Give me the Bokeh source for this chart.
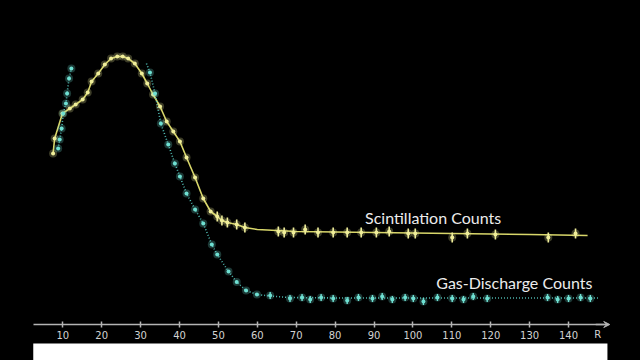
import numpy as np
from bokeh.plotting import figure
from bokeh.models import (LinearAxis, FixedTicker, Range1d, Label, BoxAnnotation,
                          Arrow, VeeHead)
from bokeh.core.properties import value
from bokeh.embed import file_html
from bokeh.resources import INLINE

# ---------------- data (R vs counts, arbitrary units) ----------------
scint_R = [7.5, 7.9, 9.9, 11.8, 13.3, 15.1, 16.4, 17.4, 19.1, 20.8, 22.4, 24.0, 25.4,
           26.8, 28.5, 30.3, 31.7, 33.2, 35.0, 36.7, 38.4, 40.1, 41.8, 44.0, 46.1,
           48.0, 49.7, 50.9, 52.3, 54.7, 56.8, 65.4, 66.9, 69.3, 72.3, 75.6, 79.5,
           83.1, 86.7, 90.6, 93.9, 98.8, 100.6, 110.1, 114.0, 121.2, 134.8, 141.8]
scint_y = [171, 186, 211, 216, 220, 225, 232, 243, 251, 260, 266, 268, 268,
           266, 261, 251, 241, 230, 218, 203, 193, 183, 167, 147, 126,
           113, 108, 104, 102, 100, 97, 93, 92, 92, 95, 92, 92,
           92, 92, 92, 93, 91, 91, 87, 91, 90, 87, 91]

scint_fit_R = [7.5, 7.9, 9.9, 11.8, 13.3, 15.1, 16.4, 17.4, 19.1, 20.8, 22.4, 24.0, 25.4,
               26.8, 28.5, 30.3, 31.7, 33.2, 35.0, 36.7, 38.4, 40.1, 41.8, 44.0, 46.1,
               48.0, 49.7, 50.9, 52.3, 54.7, 56.8, 60, 65, 70, 80, 90, 100, 110, 120,
               130, 144.9]
scint_fit_y = [171, 186, 211, 216, 220, 225, 232, 243, 251, 260, 266, 268, 268,
               266, 261, 251, 241, 230, 218, 203, 193, 183, 167, 147, 126,
               113, 108, 104, 102, 100, 97, 95, 94, 93, 92.5, 92, 91.5, 91, 90.5,
               90, 89]

gas_left_R = [8.8, 9.2, 9.7, 10.1, 10.8, 11.1, 11.6, 12.2]
gas_left_y = [176, 185, 196, 211, 221, 231, 246, 256]

gas_R = [32.4, 33.7, 35.2, 37.1, 38.8, 40.1, 41.8, 44.0, 46.1, 48.3, 49.7, 52.6,
         54.7, 57.1, 59.9, 63.3, 68.4, 71.5, 73.6, 76.4, 79.5, 83.1, 86.0, 89.6,
         92.1, 94.7, 98.0, 100.1, 102.7, 106.3, 110.1, 113.0, 115.5, 119.1,
         134.6, 137.2, 140.0, 143.1, 145.6]
gas_y = [252, 231, 201, 180, 161, 148, 131, 115, 101, 80, 70, 53,
         42.5, 34, 30, 29, 26, 27, 25, 27, 26, 24, 27, 26,
         28, 25, 27, 26, 23, 27, 26, 25, 28, 26,
         27, 25, 26, 27, 26]

gas_fit_R = [31.5, 32.4, 33.7, 35.2, 37.1, 38.8, 40.1, 41.8, 44.0, 46.1, 48.3, 49.7,
             52.6, 54.7, 57.1, 59.9, 63.3, 68, 80, 100, 120, 147.7]
gas_fit_y = [261, 252, 231, 201, 180, 161, 148, 131, 115, 101, 80, 70,
             53, 42.5, 34, 30, 28.5, 27, 26.5, 26.5, 26.5, 26.5]

tick_values = [10, 20, 30, 40, 50, 60, 70, 80, 90, 100, 110, 120, 130, 140]
axis_name = "R"
label_scint = "Scintillation Counts"
label_gas = "Gas-Discharge Counts"

# ---------------- figure ----------------
YEL_LINE = "#d8d66a"
YEL_PT = "#f0ee9a"
CYN_LINE = "#4fb8b0"
CYN_PT = "#6fe0d2"

p = figure(width=640, height=360, output_backend="svg", toolbar_location=None,
           x_range=Range1d(-6.02, 158.5), y_range=Range1d(-36, 324),
           x_axis_type=None, y_axis_type=None, min_border=0,
           background_fill_color="black", border_fill_color="black")
p.outline_line_color = None
p.grid.visible = False

# white band at the bottom
p.add_layout(BoxAnnotation(left=2.4, right=150.0, top=-19, bottom=-40,
                           fill_color="white", fill_alpha=1.0, line_color=None))

# axis at y = 0
ax = LinearAxis(fixed_location=0, ticker=FixedTicker(ticks=tick_values),
                bounds=(2.4, 150.0))
ax.axis_line_color = "#b4b4b4"
ax.axis_line_width = 1.5
ax.major_tick_line_color = "#b4b4b4"
ax.major_tick_line_width = 1.5
ax.major_tick_in = 3
ax.major_tick_out = 3
ax.minor_tick_line_color = None
ax.major_label_standoff = 3
ax.major_label_text_color = "#d2d2d2"
ax.major_label_text_font = "DejaVu Sans"
ax.major_label_text_font_size = "10px"
p.add_layout(ax, "below")

p.add_layout(Arrow(end=VeeHead(size=6, line_color="#b4b4b4", fill_color="#b4b4b4", line_width=1),
                   x_start=147.0, y_start=0, x_end=150.6, y_end=0,
                   line_color="#b4b4b4", line_width=1.5))
p.add_layout(Label(x=147.5, y=-10, text=axis_name, text_align="center",
                   text_baseline="middle", text_color="#d2d2d2",
                   text_font="DejaVu Sans", text_font_size="10px"))

# curves
p.line(scint_fit_R, scint_fit_y, line_color=YEL_LINE, line_width=1.6)
p.line(gas_left_R, gas_left_y, line_color=CYN_LINE, line_width=1.6, line_dash="1 2")
p.line(gas_fit_R, gas_fit_y, line_color=CYN_LINE, line_width=1.6, line_dash="1 2")

# error-bar marks on plateau points
sR = np.array(scint_R); sy = np.array(scint_y)
gR = np.array(gas_R); gy = np.array(gas_y)
ms = sR >= 49
mg = gR >= 60
p.scatter(sR[ms], sy[ms], marker="dash", angle=np.pi / 2, size=10,
          line_color=YEL_PT, line_width=1.6)
p.scatter(gR[mg], gy[mg], marker="dash", angle=np.pi / 2, size=7,
          line_color=CYN_PT, line_width=1.4)

# glowing points
for R, y, c in ((scint_R, scint_y, YEL_PT), (gas_left_R, gas_left_y, CYN_PT),
                (gas_R, gas_y, CYN_PT)):
    p.scatter(R, y, size=8, fill_color=c, fill_alpha=0.25, line_color=None)
    p.scatter(R, y, size=4, fill_color=c, fill_alpha=1.0, line_color=None)

# series labels
p.add_layout(Label(x=87.7, y=107, text=label_scint, text_color="#ececec",
                   text_font="Lato", text_font_size="16px",
                   text_baseline="alphabetic"))
p.add_layout(Label(x=106.0, y=42, text=label_gas, text_color="#ececec",
                   text_font="Lato", text_font_size="16px",
                   text_baseline="alphabetic"))

html = file_html(p, INLINE)
html = html.replace("</head>",
                    "<style>html,body{margin:0;padding:0;background:#000;overflow:hidden}</style></head>", 1)
open("out.html", "w").write(html)
